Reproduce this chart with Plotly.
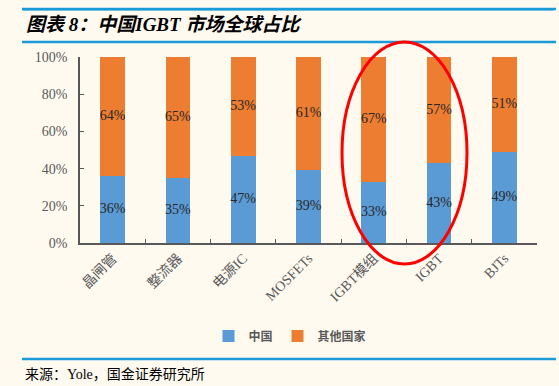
import plotly.graph_objects as go

categories = ["晶闸管", "整流器", "电源IC", "MOSFETs", "IGBT模组", "IGBT", "BJTs"]
china = [36, 35, 47, 39, 33, 43, 49]
others = [64, 65, 53, 61, 67, 57, 51]
y_ticks = [0, 20, 40, 60, 80, 100]

W, H = 559, 386
L, R, T, B = 80, 22, 57, 143
pw, ph = W - L - R, H - T - B

def px(x):
    return (x - L) / pw

def py(y):
    return (H - B - y) / ph

BLUE = "#5B9BD5"
ORANGE = "#ED7D31"
BG = "#FFFAF0"
LINE = "#1A9AD6"
SERIF = "Liberation Serif, Noto Sans CJK SC"

fig = go.Figure()
fig.add_trace(go.Bar(x=categories, y=china, name="中国", marker=dict(color=BLUE, line=dict(width=0))))
fig.add_trace(go.Bar(x=categories, y=others, name="其他国家", marker=dict(color=ORANGE, line=dict(width=0))))

# data labels at segment centres
fig.add_trace(go.Scatter(x=categories, y=[c / 2 for c in china], mode="text",
                         text=[f"{c}%" for c in china], textfont=dict(family=SERIF, size=14, color="#262626"),
                         showlegend=False, hoverinfo="skip", cliponaxis=False))
fig.add_trace(go.Scatter(x=categories, y=[c + o / 2 for c, o in zip(china, others)], mode="text",
                         text=[f"{o}%" for o in others], textfont=dict(family=SERIF, size=14, color="#262626"),
                         showlegend=False, hoverinfo="skip", cliponaxis=False))

fig.update_layout(
    width=W, height=H,
    margin=dict(l=L, r=R, t=T, b=B, autoexpand=False),
    paper_bgcolor=BG, plot_bgcolor=BG,
    barmode="stack", bargap=0.62,
    showlegend=True,
    legend=dict(orientation="h", x=px(290), y=py(336), xanchor="center", yanchor="middle",
                font=dict(family="Noto Sans CJK SC", size=12, color="#595959", weight="bold"),
                bgcolor="rgba(0,0,0,0)", itemwidth=30, traceorder="normal"),
    xaxis=dict(showline=True, linecolor="#595959", linewidth=1.5, ticks="inside", ticklen=4,
               tickcolor="#595959", tickson="boundaries", tickangle=-45,
               tickfont=dict(family=SERIF, size=14, color="#595959"), showgrid=False,
               range=[-0.5, 6.5]),
    yaxis=dict(range=[0, 100], tickvals=y_ticks, ticktext=[f"{t}%" for t in y_ticks],
               showline=True, linecolor="#595959", linewidth=1.5, ticks="inside", ticklen=4,
               tickcolor="#595959", showgrid=False, zeroline=False,
               tickfont=dict(family=SERIF, size=14, color="#595959"), ticklabelstandoff=8),
)

# decorative rules (pixel positions converted to paper fractions)
for yy in (9, 42, 359):
    fig.add_shape(type="line", xref="paper", yref="paper", x0=px(22), x1=px(556), y0=py(yy), y1=py(yy),
                  line=dict(color=LINE, width=2.5), layer="above")

# top rule also as a thin filled annotation box (in the info layer)
fig.add_annotation(xref="paper", yref="paper", x=px(22), y=py(9), xanchor="left", yanchor="middle",
                   text=" ", showarrow=False, width=530, height=1, bgcolor=LINE, borderpad=0,
                   font=dict(size=1, color=LINE))

# red ellipse highlight
fig.add_shape(type="circle", xref="paper", yref="paper", x0=px(342), x1=px(467), y0=py(264), y1=py(42),
              line=dict(color="#FF0000", width=3), fillcolor="rgba(0,0,0,0)")

fig.add_annotation(xref="paper", yref="paper", x=px(24), y=py(25), xanchor="left", yanchor="middle",
                   text="<b><i>图表 8：中国IGBT 市场全球占比</i></b>", showarrow=False,
                   font=dict(family=SERIF, size=19, color="#000000"))
fig.add_annotation(xref="paper", yref="paper", x=px(23), y=py(374), xanchor="left", yanchor="middle",
                   text="来源：Yole，国金证券研究所", showarrow=False,
                   font=dict(family=SERIF, size=14, color="#000000"))

fig.write_html("out.html", config={"displayModeBar": False},
               post_script="document.body.style.margin='0';")
